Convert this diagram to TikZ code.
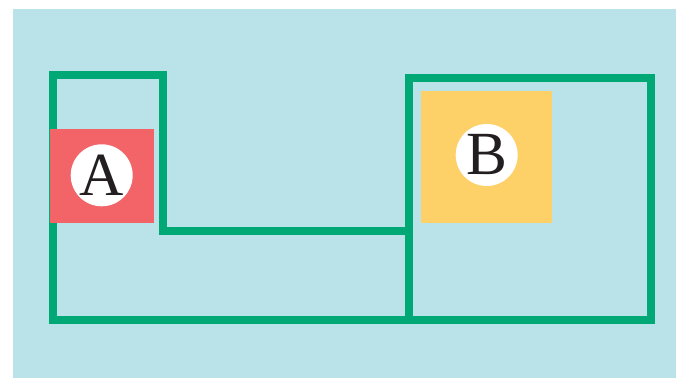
\documentclass[tikz,border=0pt]{standalone}
\usepackage{fontspec}
\usepackage{tikz}
\usetikzlibrary{positioning}
\newfontfamily\tagfont{Liberation Serif}

\definecolor{skyback}{HTML}{BAE3E9}
\definecolor{wallgreen}{HTML}{00A876}
\definecolor{roomred}{HTML}{F26468}
\definecolor{roomyellow}{HTML}{FDD168}
\definecolor{inkdark}{HTML}{231F20}

\tikzset{
  wall/.style={draw=wallgreen,line width=5.8pt,line join=miter},
  room/.style={rectangle,inner sep=0pt,draw=none},
  tag/.style={circle,fill=white,inner sep=0pt,minimum size=46.5pt,
    text=inkdark,font=\tagfont\fontsize{46}{46}\selectfont}
}

\begin{document}
\begin{tikzpicture}[x=0.75pt,y=-0.75pt]
  \useasboundingbox (0,0) rectangle (676,378);
  \fill[skyback] (13,9) rectangle (676,378);

  % walls
  \coordinate (nw) at (53,75);
  \coordinate (ne) at (163,75);
  \coordinate (step) at (163,231);
  \coordinate (sw) at (53,320);
  \draw[wall] (409,231) -- (step) -- (ne) -- (nw) -- (sw) -- (409,320);
  \draw[wall] (409,78) rectangle (651,320);

  % rooms
  \node [room,fill=roomred,minimum width=78pt,minimum height=70.5pt] (roomA) at (102,176) {};
  \node [tag] (tagA) at (101.7,175.3) {A};

  \node [room,fill=roomyellow,minimum width=98.25pt,minimum height=99pt] (roomB) at (486.5,157) {};
  \node [tag] (tagB) at (486.7,155) {B};
\end{tikzpicture}
\end{document}
